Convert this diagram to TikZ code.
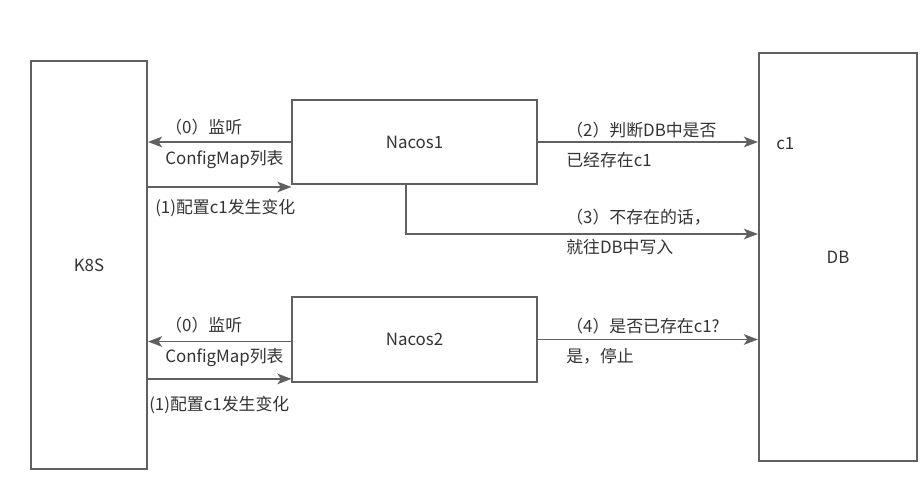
\documentclass[tikz,border=0pt]{standalone}
\usepackage{fontspec}
\setmainfont{Noto Sans CJK SC}
\usepackage{tikz}
\usetikzlibrary{arrows.meta,positioning,calc}
\definecolor{linegray}{RGB}{96,96,96}
\definecolor{textgray}{RGB}{51,51,51}

\begin{document}
\begin{tikzpicture}[x=0.025cm, y=-0.025cm,
  box/.style={rectangle, draw=linegray, line width=1.4pt, inner sep=0pt, text=textgray, font=\fontsize{12}{14}\selectfont},
  lbl/.style={anchor=west, align=left, inner sep=0pt, text=textgray, font=\fontsize{12}{21.5}\selectfont},
  flow/.style={draw=linegray, line width=1.4pt, -{Stealth[length=10pt, width=7.5pt, inset=2.5pt]}}]
\useasboundingbox (0,0) rectangle (923,499);
\node (k8s) at (89, 265) [box, minimum width=2.9cm, minimum height=10.2cm] {K8S};
\node (n1) at (414.5, 142) [box, minimum width=6.1cm, minimum height=2.1cm] {Nacos1};
\node (n2) at (414.5, 339.5) [box, minimum width=6.1cm, minimum height=2.12cm] {Nacos2};
\node (db) at (838, 257) [box, minimum width=3.95cm, minimum height=10.2cm] {DB};
\node (c1) at (776, 144) [lbl] {c1};
\coordinate (turn) at (406, 234);
% Nacos1 <-> K8S
\draw [flow] (n1.west) -- (n1.west -| k8s.east);
\draw [flow] ($(n1.south west -| k8s.east)+(0,2)$) -- ($(n1.south west)+(0,2)$);
\node (w1) at (165, 144) [lbl] {（0）监听\\ConfigMap列表};
\node (u1) at (155, 208) [lbl] {(1)配置c1发生变化};
% Nacos1 -> DB
\draw [flow] (n1.east) -- (n1.east -| db.west);
\draw [flow] (n1.south -| turn) -- (turn) -- (turn -| db.west);
\node (q1) at (566, 145) [lbl] {（2）判断DB中是否\\已经存在c1};
\node (q2) at (566, 232) [lbl] {（3）不存在的话，\\就往DB中写入};
% Nacos2 <-> K8S
\draw [flow] ($(n2.west)+(0,2)$) -- ($(n2.west -| k8s.east)+(0,2)$);
\draw [flow] ($(n2.south west -| k8s.east)+(0,-4)$) -- ($(n2.south west)+(0,-4)$);
\node (w2) at (165, 342) [lbl] {（0）监听\\ConfigMap列表};
\node (u2) at (149, 405) [lbl] {(1)配置c1发生变化};
% Nacos2 -> DB
\draw [flow] (n2.east) -- (n2.east -| db.west);
\node (q3) at (566, 341) [lbl] {（4）是否已存在c1?\\是，停止};
\end{tikzpicture}
\end{document}
